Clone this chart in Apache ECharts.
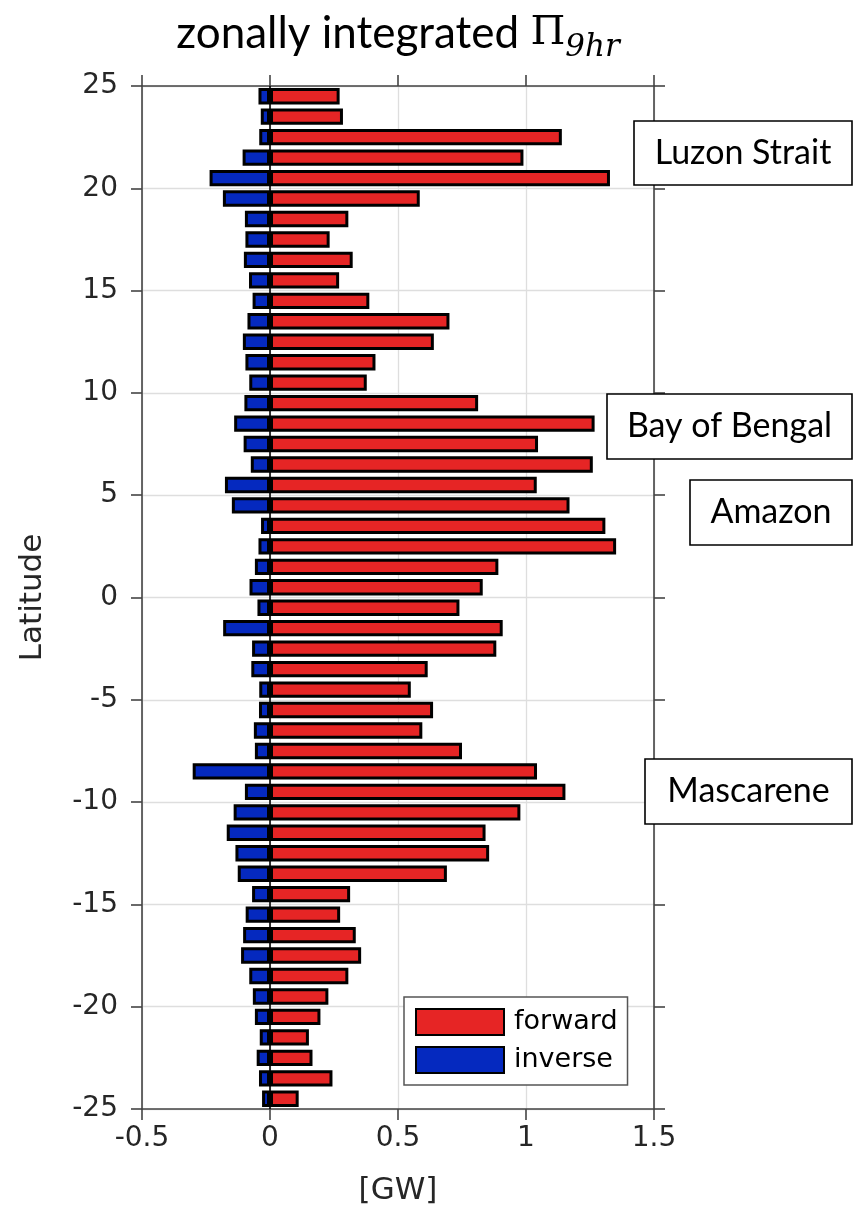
<!DOCTYPE html>
<html>
<head>
<meta charset="utf-8">
<script src="https://cdn.jsdelivr.net/npm/echarts@6/dist/echarts.min.js"></script>
<style>
  html, body { margin: 0; padding: 0; background: #fff; }
  #chart { width: 853px; height: 1212px; }
</style>
</head>
<body>
<div id="chart"></div>
<script>
// Latitude bands (degrees), listed north to south, one bar pair per band
const latitudes = [
  24.5, 23.5, 22.5, 21.5, 20.5, 19.5, 18.5, 17.5, 16.5, 15.5,
  14.5, 13.5, 12.5, 11.5, 10.5, 9.5, 8.5, 7.5, 6.5, 5.5,
  4.5, 3.5, 2.5, 1.5, 0.5, -0.5, -1.5, -2.5, -3.5, -4.5,
  -5.5, -6.5, -7.5, -8.5, -9.5, -10.5, -11.5, -12.5, -13.5, -14.5,
  -15.5, -16.5, -17.5, -18.5, -19.5, -20.5, -21.5, -22.5, -23.5, -24.5
];

// Zonally integrated energy flux [GW], forward cascade
const forward = [
  0.272, 0.285, 1.140, 0.990, 1.328, 0.585, 0.306, 0.233, 0.323, 0.270,
  0.388, 0.701, 0.640, 0.412, 0.378, 0.813, 1.268, 1.047, 1.261, 1.042,
  1.170, 1.310, 1.352, 0.892, 0.831, 0.740, 0.909, 0.884, 0.616, 0.550,
  0.637, 0.595, 0.750, 1.043, 1.154, 0.978, 0.842, 0.856, 0.691, 0.313,
  0.274, 0.335, 0.356, 0.306, 0.228, 0.197, 0.152, 0.166, 0.244, 0.112
];

// Zonally integrated energy flux [GW], inverse cascade
const inverse = [
  -0.045, -0.036, -0.042, -0.107, -0.236, -0.184, -0.098, -0.096, -0.102, -0.082,
  -0.068, -0.088, -0.106, -0.096, -0.081, -0.100, -0.140, -0.103, -0.075, -0.176,
  -0.149, -0.035, -0.045, -0.059, -0.080, -0.049, -0.183, -0.070, -0.073, -0.042,
  -0.043, -0.063, -0.059, -0.302, -0.098, -0.142, -0.169, -0.135, -0.126, -0.070,
  -0.095, -0.105, -0.113, -0.081, -0.067, -0.059, -0.040, -0.052, -0.043, -0.031
];

// Axis extents and tick spacing
const latRange = [-25, 25];
const latStep = 5;
const gwRange = [-0.5, 1.5];
const gwStep = 0.5;

// Labelled regions
const regions = [
  { name: 'Luzon Strait',  x: 634, y: 121, w: 218, h: 64 },
  { name: 'Bay of Bengal', x: 607, y: 394, w: 245, h: 65 },
  { name: 'Amazon',        x: 690, y: 480, w: 162, h: 65 },
  { name: 'Mascarene',     x: 645, y: 759, w: 207, h: 65 }
];

const RED = '#e62525';
const BLUE = '#0529bf';
const AXIS = '#444';
const GRID = '#dedede';
const TEXT = '#262626';
const LABEL_FONT = 'DejaVu Sans';
const NOTE_FONT = 'Lato';

const chart = echarts.init(document.getElementById('chart'), null, { renderer: 'canvas' });

const axisLine = { show: true, onZero: false, lineStyle: { color: AXIS, width: 1.6 } };
const axisTick = { show: true, inside: false, length: 11, lineStyle: { color: AXIS, width: 1.6 } };

const regionGraphics = regions.map(r => ({
  type: 'group',
  children: [
    {
      type: 'rect',
      shape: { x: r.x, y: r.y, width: r.w, height: r.h },
      style: { fill: '#fff', stroke: '#000', lineWidth: 1.6 },
      z: 100
    },
    {
      type: 'text',
      x: r.x + r.w / 2,
      y: r.y + r.h / 2,
      style: {
        text: r.name,
        font: '34px ' + NOTE_FONT,
        fill: '#000',
        align: 'center',
        verticalAlign: 'middle'
      },
      z: 101
    }
  ]
}));

const option = {
  backgroundColor: '#fff',
  animation: false,
  grid: { left: 142, right: 199, top: 86, bottom: 103, containLabel: false },
  graphic: [
    {
      type: 'text',
      x: 398,
      y: 34,
      style: {
        text: '{t|zonally integrated }{p|Π}{s|9hr}',
        align: 'center',
        verticalAlign: 'middle',
        rich: {
          t: { fontFamily: NOTE_FONT, fontSize: 44, fill: '#000', lineHeight: 58, verticalAlign: 'middle' },
          p: { fontFamily: 'DejaVu Serif', fontSize: 40, fill: '#000', lineHeight: 58, verticalAlign: 'middle' },
          s: { fontFamily: 'DejaVu Serif', fontStyle: 'italic', fontSize: 31, fill: '#000', lineHeight: 34, verticalAlign: 'bottom' }
        }
      },
      z: 100
    },
    ...regionGraphics
  ],
  legend: {
    data: ['forward', 'inverse'],
    orient: 'vertical',
    left: 404,
    top: 997,
    itemWidth: 88,
    itemHeight: 26,
    itemGap: 10,
    padding: [11, 10, 11, 11],
    backgroundColor: '#fff',
    borderColor: '#555',
    borderWidth: 1.5,
    icon: 'rect',
    selectedMode: false,
    textStyle: { fontFamily: LABEL_FONT, fontSize: 27, color: '#000', padding: [0, 0, 0, 5] },
    z: 50
  },
  xAxis: [
    {
      type: 'value',
      position: 'bottom',
      min: gwRange[0],
      max: gwRange[1],
      interval: gwStep,
      axisLine, axisTick,
      axisLabel: { fontFamily: LABEL_FONT, fontSize: 28, color: TEXT, margin: 16 },
      splitLine: { show: true, lineStyle: { color: GRID, width: 1.3 } },
      name: '[GW]',
      nameLocation: 'middle',
      nameGap: 66,
      nameTextStyle: { fontFamily: LABEL_FONT, fontSize: 31, color: TEXT }
    },
    {
      type: 'value',
      position: 'top',
      min: gwRange[0],
      max: gwRange[1],
      interval: gwStep,
      axisLine, axisTick,
      axisLabel: { show: false },
      splitLine: { show: false }
    }
  ],
  yAxis: [
    {
      type: 'value',
      position: 'left',
      min: latRange[0],
      max: latRange[1],
      interval: latStep,
      axisLine, axisTick,
      axisLabel: { fontFamily: LABEL_FONT, fontSize: 28, color: TEXT, margin: 24 },
      splitLine: { show: true, lineStyle: { color: GRID, width: 1.3 } },
      name: 'Latitude',
      nameLocation: 'middle',
      nameGap: 94,
      nameRotate: 90,
      nameTextStyle: { fontFamily: LABEL_FONT, fontSize: 31, color: TEXT }
    },
    {
      type: 'value',
      position: 'right',
      min: latRange[0],
      max: latRange[1],
      interval: latStep,
      axisLine, axisTick,
      axisLabel: { show: false },
      splitLine: { show: false }
    },
    {
      type: 'category',
      show: false,
      inverse: true,
      data: latitudes
    }
  ],
  series: [
    {
      name: 'forward',
      type: 'bar',
      xAxisIndex: 0,
      yAxisIndex: 2,
      data: forward,
      barWidth: '80%',
      barGap: '-100%',
      itemStyle: { color: RED, borderColor: '#000', borderWidth: 3 },
      markLine: {
        silent: true,
        symbol: 'none',
        label: { show: false },
        lineStyle: { color: '#000', width: 1.6, type: 'solid' },
        data: [{ xAxis: 0 }]
      },
      z: 3
    },
    {
      name: 'inverse',
      type: 'bar',
      xAxisIndex: 0,
      yAxisIndex: 2,
      data: inverse,
      barWidth: '80%',
      barGap: '-100%',
      itemStyle: { color: BLUE, borderColor: '#000', borderWidth: 3 },
      z: 3
    }
  ]
};

chart.setOption(option);
</script>
</body>
</html>
